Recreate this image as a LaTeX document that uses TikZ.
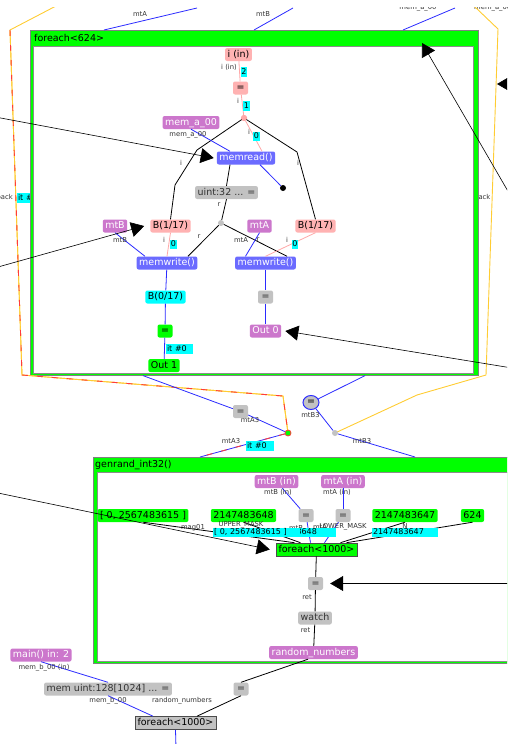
\documentclass[tikz,border=0pt]{standalone}
\usepackage{fontspec}
\setmainfont{DejaVu Sans}
\usetikzlibrary{arrows.meta,shapes.geometric}

\definecolor{opgreen}{HTML}{00FF00}
\definecolor{oppink}{HTML}{FFB2B2}
\definecolor{oppurple}{HTML}{CC77CC}
\definecolor{opblue}{HTML}{6B6BFF}
\definecolor{opgray}{HTML}{C2C2C2}
\definecolor{opcyan}{HTML}{00FFFF}
\definecolor{wireblue}{HTML}{2B2BFF}
\definecolor{wirepink}{HTML}{FFA8A8}
\definecolor{tieyellow}{HTML}{FFCC33}
\definecolor{tiered}{HTML}{FF3B3B}

\begin{document}
\begin{tikzpicture}[x=1pt, y=-1pt,
    op/.style={rounded corners=2pt, inner xsep=2.5pt, inner ysep=2pt, text height=7pt, text depth=2pt, font=\fontsize{9.5}{10}\selectfont},
    pinkop/.style={op, fill=oppink},
    purpop/.style={op, fill=oppurple, text=white},
    blueop/.style={op, fill=opblue, text=white},
    grayop/.style={op, fill=opgray, text=black!80},
    greenop/.style={op, fill=opgreen},
    cyanop/.style={op, fill=opcyan},
    eqop/.style={minimum width=15pt},
    loopbox/.style={op, rounded corners=0pt, draw=black!70, line width=0.6pt},
    tag/.style={inner sep=0pt, text=black!80, font=\fontsize{6.8}{7}\selectfont},
    ctag/.style={fill=opcyan, inner xsep=0.8pt, inner ysep=1.2pt, text height=5.8pt, text depth=1.2pt, font=\fontsize{8}{8}\selectfont},
    wctag/.style={ctag, anchor=west, align=left, text width=#1},
    dot/.style={circle, inner sep=0pt, minimum size=6pt},
    wire/.style={line width=0.8pt},
    bluewire/.style={wire, wireblue},
    pinkwire/.style={wire, wirepink},
    tie/.style={tieyellow, line width=0.9pt},
    redtie/.style={postaction={draw=tiered, line width=0.9pt, dash pattern=on 6pt off 9pt}},
    note/.style={line width=0.6pt, -{Triangle[length=13pt,width=15pt]}},
    frame/.style={anchor=north west, inner sep=0pt, fill=opgreen, draw=black!50, line width=0.6pt},
    pane/.style={anchor=north west, inner sep=0pt, fill=white, draw=black!45, line width=1pt},
    title/.style={anchor=west, inner sep=0pt, font=\fontsize{9.5}{10}\selectfont}
  ]
  \useasboundingbox (0,0) rectangle (507,744);
  \clip (0,7) rectangle (507,744);

  % Rotulos cortados nas bordas
  \node[tag, anchor=east] (bkl) at (13,197) {back};
  \node[wctag=26pt] (itl) at (17,198) {it \#0};
  \node[tag, anchor=west] (bkr) at (474,197) {back};

  % Bloco foreach<624>
  \node[frame, minimum width=448pt, minimum height=345pt] (fe624) at (30,30) {};
  \node[pane, minimum width=440pt, minimum height=327pt] (fe624in) at (33,46) {};
  \node[title] (t624) at (34,38) {foreach<624>};

  % Ligacoes no topo
  \coordinate (topa) at (197,8);
  \coordinate (topb) at (293,8);
  \coordinate (topc) at (455,8);
  \draw[bluewire] ([xshift=74pt]fe624.north west) -- (topa);
  \draw[bluewire] ([xshift=224pt]fe624.north west) -- (topb);
  \draw[bluewire] ([xshift=373pt]fe624.north west) -- (topc);
  \node[tag] (lta) at (140,14) {mtA};
  \node[tag] (ltb) at (263,14) {mtB};
  \node[tag] (ltc) at (418,8) {mem\_a\_00};
  \node[tag, anchor=west] (ltd) at (474,8) {mem\_a\_00};

  % Elementos do foreach<624>
  \node[pinkop] (iin) at (238.5,54.5) {i (in)};
  \node[pinkop, eqop] (eq1) at (240.5,88) {=};
  \node[dot, fill=wirepink] (pdot) at (244,118) {};
  \node[blueop] (memrd) at (246,158) {memread()};
  \node[purpop] (mema) at (191,122.5) {mem\_a\_00};
  \node[dot, fill=black] (bdot) at (283,188) {};
  \node[grayop] (uint) at (226.5,192.5) {uint:32 ... =};
  \node[dot, fill=opgray] (gdot) at (221,223) {};
  \node[purpop] (mtb) at (115,226) {mtB};
  \node[pinkop] (bl) at (170.5,226) {B(1/17)};
  \node[purpop] (mta) at (259.5,226) {mtA};
  \node[pinkop] (br) at (315.5,226) {B(1/17)};
  \node[blueop] (mwl) at (167,263) {memwrite()};
  \node[blueop] (mwr) at (265.5,263) {memwrite()};
  \node[cyanop] (b017) at (165.5,297) {B(0/17)};
  \node[greenop, eqop] (eqg) at (165,331) {=};
  \node[greenop] (out1) at (164,365.5) {Out 1};
  \node[grayop, eqop] (eqr) at (265.5,297) {=};
  \node[purpop] (out0) at (265.5,331) {Out 0};

  \draw[pinkwire] (iin) -- (eq1);
  \draw[pinkwire] (eq1) -- (pdot);
  \draw[wire] (pdot.center) -- (197,150) -- (175,185) -- (bl.north);
  \draw[wire] (pdot.center) -- (297,152) -- (br.north);
  \draw[pinkwire] (pdot) -- ([xshift=16pt]memrd.north);
  \draw[bluewire] (mema.south) -- ([xshift=-16pt]memrd.north);
  \draw[bluewire] ([xshift=14pt]memrd.south) -- (bdot);
  \draw[wire] ([xshift=-16pt]memrd.south) -- (uint.north);
  \draw[wire] (uint.south) -- (gdot);
  \draw[wire] (gdot) -- ([xshift=21pt]mwl.north);
  \draw[wire] (gdot) -- ([xshift=21.5pt]mwr.north);
  \draw[bluewire] (mtb.south) -- ([xshift=-22pt]mwl.north);
  \draw[pinkwire] (bl.south) -- (mwl.north);
  \draw[bluewire] (mta.south) -- ([xshift=-20pt]mwr.north);
  \draw[pinkwire] (br.south) -- (mwr.north);
  \draw[bluewire] (mwl) -- (b017);
  \draw[bluewire] (b017) -- (eqg);
  \draw[bluewire] (eqg) -- (out1);
  \draw[bluewire] (mwr) -- (eqr);
  \draw[bluewire] (eqr) -- (out0);
  \node[dot, fill=wirepink] at (pdot) {};

  \node[tag, anchor=east] (liin) at (237,67) {i (in)};
  \node[ctag] (c2) at (244,72) {2};
  \node[tag] (li1) at (238,101) {i};
  \node[ctag] (c1) at (246.5,106) {1};
  \node[tag] (lmema) at (188,135) {mem\_a\_00};
  \node[tag] (li2) at (249,132) {i};
  \node[ctag] (c0a) at (256.5,136.5) {0};
  \node[tag] (li3) at (181,163) {i};
  \node[tag] (li4) at (298,163) {i};
  \node[tag] (lr1) at (219,205) {r};
  \node[tag] (lmtb) at (120,240) {mtB};
  \node[tag] (li5) at (164,240) {i};
  \node[ctag] (c0b) at (173.5,244.5) {0};
  \node[tag] (lr2) at (199,237) {r};
  \node[tag] (lmta) at (241,240) {mtA};
  \node[tag] (lr3) at (258,240) {r};
  \node[tag] (li6) at (287,240) {i};
  \node[ctag] (c0c) at (295,244.5) {0};
  \node[wctag=25pt] (it1) at (166,349) {it \#0};

  % Fios entre os blocos
  \draw[tie] (56,6) -- (10,30) -- (22,375) -- (283,396) -- (288,433);
  \draw[tie, redtie] (10,30) -- (22,375) -- (283,396) -- (288,433);
  \draw[tie] (474,6) -- (498,29) -- (486,375) -- (417,395) -- (335,433);

  \node[grayop, eqop] (eqa) at (240.5,411.5) {=};
  \node[ellipse, fill=opgray, draw=wireblue, line width=1pt, inner sep=0pt, minimum width=16pt, minimum height=14pt, font=\fontsize{9.5}{10}\selectfont] (eqb) at (311,402.5) {=};
  \node[dot, fill=opgreen, draw=tiered, line width=0.8pt] (jdot) at (288,433) {};
  \node[dot, fill=opgray] (gdot2) at (335,433) {};

  % Bloco genrand_int32()
  \node[frame, minimum width=440pt, minimum height=206pt] (gr) at (93,457) {};
  \node[pane, minimum width=440pt, minimum height=189pt] (grin) at (97,472) {};
  \node[title] (tgr) at (95,465) {genrand\_int32()};

  \draw[bluewire] ([xshift=113pt]fe624.south west) -- (eqa);
  \draw[bluewire] (eqa) -- (jdot);
  \draw[bluewire, redtie] (jdot) -- ([xshift=107pt]gr.north west);
  \draw[bluewire] ([xshift=335pt]fe624.south west) -- (eqb);
  \draw[bluewire] (eqb) -- (gdot2);
  \draw[bluewire] (gdot2) -- ([xshift=322pt]gr.north west);
  \node[tag] (lmta3a) at (250,420) {mtA3};
  \node[tag] (lmta3b) at (231,441.5) {mtA3};
  \node[wctag=26pt] (it2) at (246,446) {it \#0};
  \node[tag] (lmtb3a) at (310.5,415) {mtB3};
  \node[tag] (lmtb3b) at (362,441.5) {mtB3};

  % Elementos do genrand_int32()
  \node[purpop] (mtbin) at (276.5,481.5) {mtB (in)};
  \node[purpop] (mtain) at (343,481.5) {mtA (in)};
  \node[grayop, eqop] (eqm) at (306,515.5) {=};
  \node[grayop, eqop] (eqn) at (343,515.5) {=};
  \node[greenop] (lit1) at (143,515.5) {[ 0, 2567483615 ]};
  \node[greenop] (lit2) at (243.5,515.5) {2147483648};
  \node[greenop] (lit3) at (405,515.5) {2147483647};
  \node[greenop] (lit4) at (472.5,515.5) {624};
  \node[loopbox, fill=opgreen] (fe1000) at (316.5,549.5) {foreach<1000>};
  \node[grayop, eqop] (eqret) at (315.5,583.5) {=};
  \node[grayop] (watch) at (315,618) {watch};
  \node[purpop] (rnd) at (313.5,652.5) {random\_numbers};

  \draw[bluewire] (mtbin) -- (eqm);
  \draw[bluewire] (mtain) -- (eqn);
  \draw[wire] (lit1.south) -- ([xshift=-22pt]fe1000.north);
  \draw[wire] (lit2.south) -- ([xshift=-16pt]fe1000.north);
  \draw[bluewire] (eqm) -- ([xshift=-6pt]fe1000.north);
  \draw[bluewire] (eqn) -- ([xshift=8pt]fe1000.north);
  \draw[wire] (lit3.south) -- ([xshift=24pt]fe1000.north);
  \draw[wire] (lit4.south) -- ([xshift=30pt]fe1000.north);
  \draw[wire] (fe1000) -- (eqret);
  \draw[wire] (eqret) -- (watch);
  \draw[wire] (watch) -- (rnd);

  \node[tag] (lmtbin) at (278,492.5) {mtB (in)};
  \node[tag] (lmtain) at (337,492.5) {mtA (in)};
  \node[tag] (lmag) at (193,528) {mag01};
  \node[tag] (lup) at (241,525) {UPPER\_MASK};
  \node[tag] (lmtb2) at (296,528) {mtB};
  \node[tag] (llow) at (343,527) {LOWER\_MASK};
  \node[tag] (lmta2) at (320,527) {mtA};
  \node[tag] (ln) at (405,526) {N};
  \node[wctag=69pt] (c48) at (265,532.5) {2147483648};
  \node[wctag=85pt] (c25) at (213,532.5) {[ 0, 2567483615 ]};
  \node[wctag=64pt] (c47) at (372,532.5) {2147483647};
  \node[tag] (lret1) at (307,597) {ret};
  \node[tag] (lret2) at (305.5,630) {ret};

  % Parte de baixo
  \node[purpop] (mainin) at (41,655) {main() in: 2};
  \node[grayop] (memb) at (108,689) {mem uint:128[1024] ... =};
  \node[grayop, eqop] (eqbot) at (241,689) {=};
  \node[loopbox, fill=opgray] (fe1000b) at (175.5,723) {foreach<1000>};
  \coordinate (botend) at (176,748);

  \draw[bluewire] (mainin.south) -- (memb.north);
  \draw[wire] ([xshift=-5.5pt]rnd.south) -- (eqbot.north);
  \draw[bluewire] (memb.south) -- ([xshift=-22.5pt]fe1000b.north);
  \draw[wire] (eqbot.south) -- ([xshift=21.5pt]fe1000b.north);
  \draw[bluewire] (fe1000b.south) -- (botend);
  \node[tag] (lmemb) at (44,667.5) {mem\_b\_00 (in)};
  \node[tag] (lmemb2) at (108,701) {mem\_b\_00};
  \node[tag] (lrnd) at (182,701) {random\_numbers};

  % Setas vindas de fora
  \coordinate (n1) at (-2,117.5);
  \coordinate (n2) at (-2,267);
  \coordinate (n3) at (509,367.5);
  \coordinate (n4) at (509,193);
  \coordinate (n4t) at (422,43);
  \coordinate (n5) at (509,583.5);
  \coordinate (n6) at (-2,493);
  \coordinate (n7) at (512,84);
  \coordinate (n7t) at (497,84);
  \draw[note] (n1) -- ([xshift=-3pt]memrd.west);
  \draw[note] (n2) -- ([xshift=-6pt]bl.west);
  \draw[note] (n3) -- ([xshift=4pt]out0.east);
  \draw[note] (n4) -- (n4t);
  \draw[note] (n5) -- ([xshift=7pt]eqret.east);
  \draw[note] (n6) -- ([xshift=-6pt]fe1000.west);
  \draw[note] (n7) -- (n7t);
\end{tikzpicture}
\end{document}
